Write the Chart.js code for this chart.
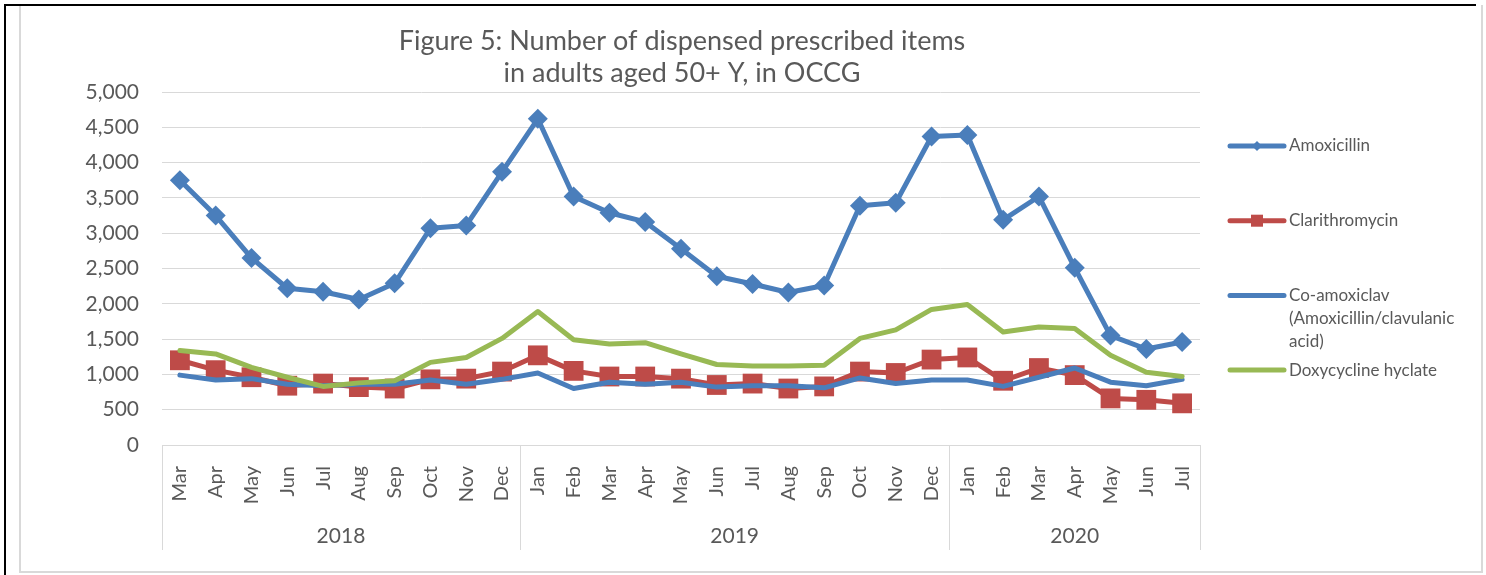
<!DOCTYPE html>
<html>
<head>
<meta charset="utf-8">
<title>Figure 5</title>
<script src="https://cdn.jsdelivr.net/npm/chart.js@4/dist/chart.umd.min.js"></script>
<style>
  html, body { margin: 0; padding: 0; background: #fff; }
  #wrap { position: relative; width: 1486px; height: 575px; overflow: hidden; }
  .frame { position: absolute; left: 19px; top: 5px; width: 1460px; height: 566px;
           border: 2px solid #d9d9d9; border-top: none; }
  .edge-top { position: absolute; left: 4px; top: 4px; width: 1472px; height: 2px; background: #000; }
  .edge-left { position: absolute; left: 4px; top: 4px; width: 2px; height: 571px; background: #000; }
  canvas { position: absolute; left: 0; top: 0; }
</style>
</head>
<body>
<div id="wrap">
  <div class="frame"></div>
  <div class="edge-top"></div>
  <div class="edge-left"></div>
  <canvas id="cv" width="1486" height="575"></canvas>
</div>
<script>
  const titleLines = ["Figure 5: Number of dispensed prescribed items", "in adults aged 50+ Y, in OCCG"];

  const months = [
    "Mar", "Apr", "May", "Jun", "Jul", "Aug", "Sep", "Oct", "Nov", "Dec",
    "Jan", "Feb", "Mar", "Apr", "May", "Jun", "Jul", "Aug", "Sep", "Oct", "Nov", "Dec",
    "Jan", "Feb", "Mar", "Apr", "May", "Jun", "Jul"
  ];
  const yearLabels = ["2018", "2019", "2020"];
  const yearSpans = [10, 12, 7];

  const amoxicillin = [
    3750, 3250, 2650, 2220, 2170, 2060, 2290, 3070, 3110, 3870,
    4620, 3520, 3290, 3160, 2780, 2390, 2280, 2160, 2260, 3390, 3430, 4370,
    4390, 3190, 3520, 2510, 1550, 1360, 1460
  ];
  const clarithromycin = [
    1200, 1060, 960, 840, 870, 820, 800, 930, 940, 1040,
    1270, 1050, 970, 970, 940, 850, 870, 800, 830, 1040, 1020, 1210,
    1240, 910, 1090, 990, 660, 640, 590
  ];
  const coAmoxiclav = [
    990, 920, 940, 860, 840, 860, 860, 920, 860, 930,
    1020, 800, 890, 860, 890, 820, 840, 840, 810, 950, 870, 920,
    920, 830, 960, 1090, 890, 840, 930
  ];
  const doxycycline = [
    1340, 1290, 1100, 960, 830, 880, 910, 1170, 1240, 1510,
    1890, 1490, 1430, 1450, 1290, 1140, 1120, 1120, 1130, 1510, 1630, 1920,
    1990, 1600, 1670, 1650, 1270, 1030, 970
  ];

  const yTicks = [0, 500, 1000, 1500, 2000, 2500, 3000, 3500, 4000, 4500, 5000];

  const BLUE = "#4a7ebb";
  const RED = "#be4b48";
  const GREEN = "#98b954";
  const TEXT = "#595959";
  const GRID = "#d9d9d9";
  const FONT = "Lato, 'Liberation Sans', sans-serif";

  // title, year groups and the wrapped legend are drawn here
  const extras = {
    id: "extras",
    afterDraw(chart) {
      const { ctx, chartArea: area } = chart;
      const x = chart.scales.x;
      const cx = (area.left + area.right) / 2;

      ctx.save();
      ctx.fillStyle = TEXT;
      ctx.textAlign = "center";
      ctx.textBaseline = "middle";
      ctx.font = `27px ${FONT}`;
      ctx.fillText(titleLines[0], cx + 1, 41);
      ctx.fillText(titleLines[1], cx + 1, 73);

      // year groups under the month labels
      ctx.strokeStyle = GRID;
      ctx.lineWidth = 1;
      ctx.font = `21px ${FONT}`;
      const step = x.getPixelForValue(1) - x.getPixelForValue(0);
      let start = 0;
      const edge = (i) => Math.round(x.getPixelForValue(i) - step / 2) + 0.5;
      for (let g = 0; g < yearLabels.length; g++) {
        const end = start + yearSpans[g];
        const l = edge(start);
        ctx.beginPath();
        ctx.moveTo(l, area.bottom);
        ctx.lineTo(l, 550);
        ctx.stroke();
        const mid = (x.getPixelForValue(start) + x.getPixelForValue(end - 1)) / 2;
        ctx.fillText(yearLabels[g], mid, 536);
        start = end;
      }
      const r = edge(start);
      ctx.beginPath();
      ctx.moveTo(r, area.bottom);
      ctx.lineTo(r, 550);
      ctx.stroke();

      // legend
      ctx.textAlign = "left";
      ctx.font = `17px ${FONT}`;
      const lx = area.right + 30;
      const maxW = 180;
      let ly = 146;
      for (const ds of chart.data.datasets) {
        ctx.strokeStyle = ds.borderColor;
        ctx.lineWidth = 5;
        ctx.lineCap = "round";
        ctx.beginPath();
        ctx.moveTo(lx, ly);
        ctx.lineTo(lx + 54, ly);
        ctx.stroke();
        ctx.fillStyle = ds.borderColor;
        if (ds.pointStyle === "rectRot") {
          ctx.beginPath();
          ctx.moveTo(lx + 27, ly - 5);
          ctx.lineTo(lx + 32, ly);
          ctx.lineTo(lx + 27, ly + 5);
          ctx.lineTo(lx + 22, ly);
          ctx.fill();
        } else if (ds.pointStyle === "rect" && ds.pointRadius > 0) {
          ctx.fillRect(lx + 21, ly - 6, 12, 12);
        }
        // word wrap
        const words = ds.label.split(" ");
        const lines = [];
        let cur = "";
        for (const w of words) {
          const t = cur ? cur + " " + w : w;
          if (cur && ctx.measureText(t).width > maxW) {
            lines.push(cur);
            cur = w;
          } else cur = t;
        }
        lines.push(cur);
        ctx.fillStyle = TEXT;
        lines.forEach((t, i) => ctx.fillText(t, lx + 59, ly + i * 23));
        ly += 74.7;
      }
      ctx.restore();
    }
  };

  new Chart(document.getElementById("cv"), {
    type: "line",
    data: {
      labels: months,
      datasets: [
        { label: "Amoxicillin", data: amoxicillin, borderColor: BLUE, backgroundColor: BLUE,
          pointStyle: "rectRot", pointRadius: 10, order: 3 },
        { label: "Clarithromycin", data: clarithromycin, borderColor: RED, backgroundColor: RED,
          pointStyle: "rect", pointRadius: 14, order: 2 },
        { label: "Co-amoxiclav (Amoxicillin/clavulanic acid)", data: coAmoxiclav, borderColor: BLUE,
          backgroundColor: BLUE, pointStyle: "circle", pointRadius: 0, order: 1 },
        { label: "Doxycycline hyclate", data: doxycycline, borderColor: GREEN, backgroundColor: GREEN,
          pointStyle: "circle", pointRadius: 0, order: 0 }
      ]
    },
    options: {
      responsive: false,
      animation: false,
      events: [],
      elements: {
        line: { borderWidth: 5, tension: 0, borderJoinStyle: "round", borderCapStyle: "round" },
        point: { borderWidth: 0, hoverRadius: 0 }
      },
      layout: { padding: { left: 82, top: 92, right: 286, bottom: 0 } },
      plugins: { legend: { display: false }, title: { display: false }, tooltip: { enabled: false } },
      scales: {
        x: {
          type: "category",
          offset: true,
          afterFit: (s) => { s.height = 130; },
          grid: { display: false },
          border: { display: true, color: GRID, width: 1 },
          ticks: {
            autoSkip: false, maxRotation: 90, minRotation: 90, padding: 13,
            color: TEXT, font: { family: FONT, size: 20 }
          }
        },
        y: {
          min: 0,
          max: 5000,
          afterFit: (s) => { s.width = 80; },
          afterBuildTicks: (s) => { s.ticks = yTicks.map(v => ({ value: v })); },
          grid: { color: GRID, lineWidth: 1, drawTicks: false },
          border: { display: false },
          ticks: {
            padding: 23, color: TEXT, font: { family: FONT, size: 21 },
            callback: (v) => v.toLocaleString("en-US")
          }
        }
      }
    },
    plugins: [extras]
  });
</script>
</body>
</html>
